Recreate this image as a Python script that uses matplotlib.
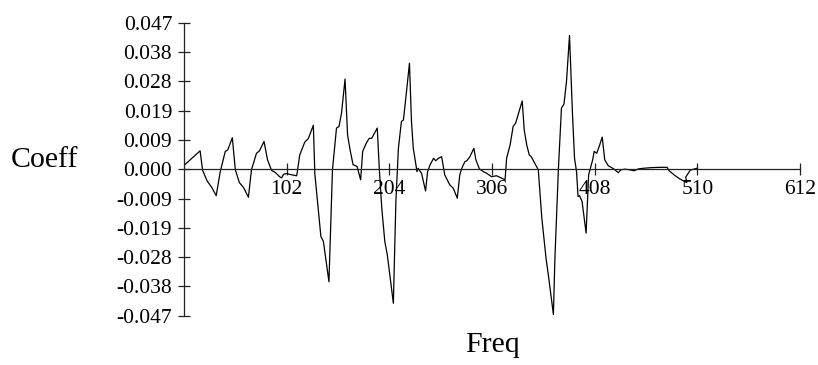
import matplotlib
matplotlib.use("Agg")
import matplotlib.pyplot as plt

# Punkty krzywej (Freq, Coeff)
freq = [0, 16, 18.5, 23, 27.5, 32, 36, 41, 43.5, 48, 51, 55, 59, 64, 67, 72, 75, 79.5,
        83, 87, 90.5, 95, 97, 99, 102, 107, 112, 115, 120, 123.5, 128.5, 130, 133, 136,
        138.5, 144, 147.5, 151.5, 154, 156.5, 160, 162.5, 165, 168, 170, 172, 175.5,
        177.5, 181, 184, 186.5, 192, 194, 196.5, 199.5, 202, 208, 210.5, 213, 216, 218,
        220, 224, 226, 227.8, 231.5, 232.5, 236, 240, 242, 244.5, 248, 250, 252.7, 256,
        259, 264, 267.5, 271.5, 274, 276, 279, 281, 284, 288, 290, 293.5, 297.5, 300.7,
        305.5, 310.5, 319, 320.5, 324, 327, 329.5, 336, 338, 340.5, 343, 345, 348.5, 352,
        355.5, 359.7, 362, 367, 368.5, 372, 375, 377.5, 380, 383, 386, 388, 390, 391.5,
        393, 395.5, 399.5, 402, 406, 407.5, 410, 412.5, 415.5, 418, 421.5, 426.5, 431.5,
        434, 438, 443, 447, 451.5, 456.5, 464.5, 473, 480, 482, 488, 493, 499.5, 498.5,
        503, 509.5]
coeff = [0.0012, 0.0059, -0.0004, -0.0038, -0.0058, -0.0085, -0.0008, 0.0057, 0.0062,
         0.0101, -0.0002, -0.0043, -0.0058, -0.0090, -0.0002, 0.0051, 0.0059, 0.0089,
         0.0030, -0.0004, -0.0010, -0.0024, -0.0028, -0.0016, -0.0014, -0.0018, -0.0021,
         0.0046, 0.0087, 0.0098, 0.0141, -0.0015, -0.0115, -0.0216, -0.0232, -0.0361,
         -0.0002, 0.0132, 0.0137, 0.0180, 0.0289, 0.0110, 0.0062, 0.0014, 0.0012, 0.0008,
         -0.0034, 0.0057, 0.0083, 0.0099, 0.0099, 0.0132, 0.0003, -0.0125, -0.0232,
         -0.0275, -0.0430, -0.0104, 0.0067, 0.0153, 0.0158, 0.0217, 0.0340, 0.0153,
         0.0067, -0.0008, 0.0003, -0.0013, -0.0070, -0.0008, 0.0014, 0.0035, 0.0027,
         0.0035, 0.0040, -0.0018, -0.0050, -0.0061, -0.0093, -0.0018, 0.0003, 0.0024,
         0.0027, 0.0040, 0.0067, 0.0030, 0.0001, -0.0008, -0.0013, -0.0024, -0.0021,
         -0.0034, 0.0035, 0.0078, 0.0137, 0.0148, 0.0219, 0.0126, 0.0078, 0.0046, 0.0040,
         0.0019, -0.0002, -0.0157, -0.0286, -0.0340, -0.0466, -0.0286, 0.0003, 0.0196,
         0.0209, 0.0281, 0.0429, 0.0174, 0.0035, -0.0008, -0.0088, -0.0085, -0.0104,
         -0.0205, -0.0018, 0.0030, 0.0057, 0.0051, 0.0073, 0.0103, 0.0030, 0.0011,
         0.0002, -0.0011, -0.0002, 0.0000, -0.0002, -0.0005, 0.0001, 0.0003, 0.0005,
         0.0006, 0.0006, -0.0005, -0.0021, -0.0032, -0.0043, -0.0025, -0.0003, 0.0003]

x_ticks = [102, 204, 306, 408, 510, 612]
y_ticks = [0.047, 0.0376, 0.0282, 0.0188, 0.0094, 0.0, -0.0094, -0.0188, -0.0282, -0.0376, -0.047]
y_labels = ["0.047", "0.038", "0.028", "0.019", "0.009", "0.000",
            "-0.009", "-0.019", "-0.028", "-0.038", "-0.047"]

plt.rcParams['font.family'] = ['Liberation Serif', 'DejaVu Serif']

fig = plt.figure(figsize=(8.18, 3.65), dpi=100)
ax = fig.add_axes([184 / 818, 49.3 / 365, 616 / 818, 293 / 365])

ax.plot(freq, coeff, color='black', linewidth=0.9)

ax.set_xlim(0, 612)
ax.set_ylim(-0.047, 0.047)

# tylko os pionowa i pozioma linia w zerze
ax.spines['top'].set_visible(False)
ax.spines['right'].set_visible(False)
ax.spines['bottom'].set_position(('data', 0))
for s in ('left', 'bottom'):
    ax.spines[s].set_linewidth(0.9)
    ax.spines[s].set_color('#222222')

ax.set_xticks(x_ticks)
ax.set_xticklabels([str(t) for t in x_ticks])
ax.set_yticks(y_ticks)
ax.set_yticklabels(y_labels)
ax.tick_params(axis='both', direction='inout', length=9, width=0.9,
               color='#222222', labelsize=15.5)
ax.tick_params(axis='x', pad=3)
ax.tick_params(axis='y', pad=4)

fig.text(45 / 818, 1 - 160 / 365, "Coeff", fontsize=21.5, ha='center', va='center')
fig.text(492 / 818, 1 - 345 / 365, "Freq", fontsize=21.5, ha='center', va='center')

fig.savefig("out.png", dpi=100)
